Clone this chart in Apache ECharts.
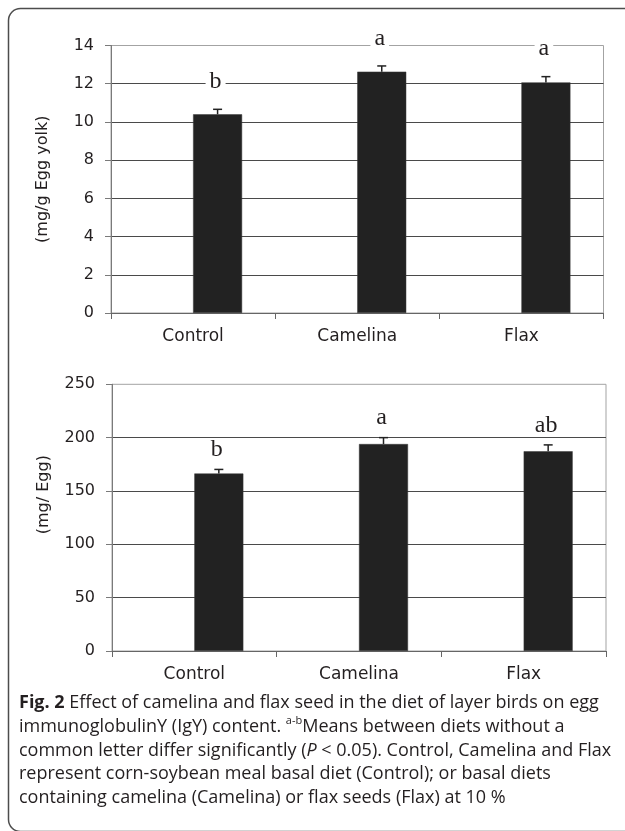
<!DOCTYPE html>
<html><head><meta charset="utf-8">
<script src="https://cdn.jsdelivr.net/npm/echarts@6/dist/echarts.min.js"></script>
<style>html,body{margin:0;padding:0;background:#fff}#c{width:625px;height:831px}</style>
</head><body><div id="c"></div>
<script>
// ---------- data ----------
const categories = ['Control', 'Camelina', 'Flax'];

const yolkMeans = [10.4, 12.63, 12.07];
const yolkErrors = [0.26, 0.3, 0.3];
const yolkLetters = ['b', 'a', 'a'];
const yolkTicks = { min: 0, max: 14, interval: 2 };
const yolkTitle = '(mg/g Egg yolk)';

const eggMeans = [166.4, 194, 187.2];
const eggErrors = [3.8, 6, 6];
const eggLetters = ['b', 'a', 'ab'];
const eggTicks = { min: 0, max: 250, interval: 50 };
const eggTitle = '(mg/ Egg)';

const captionLines = [
  '{b|Fig. 2} Effect of camelina and flax seed in the diet of layer birds on egg',
  'immunoglobulinY (IgY) content. {sup|a-b}Means between diets without a',
  'common letter differ significantly ({i|P} < 0.05). Control, Camelina and Flax',
  'represent corn-soybean meal basal diet (Control); or basal diets',
  'containing camelina (Camelina) or flax seeds (Flax) at 10 %'
];

// ---------- styles ----------
const SANS = '"DejaVu Sans"';
const SERIF = '"Liberation Serif"';
const CAP_FONT = '"Open Sans"';
const CAP_SIZE = 18;
const BAR_W = 49;
const INK = '#231f20';
const AXIS_GRAY = '#7a7a7a';
const GRID_DARK = '#4a4a4a';

function xAxis(gi) {
  return {
    type: 'category', gridIndex: gi, data: categories, boundaryGap: true,
    axisLine: { show: true, lineStyle: { color: '#666', width: 1 } },
    axisTick: { show: true, length: 6, lineStyle: { color: '#666' } },
    axisLabel: { margin: 15, color: INK, fontFamily: SANS, fontSize: 17 },
    splitLine: { show: false }
  };
}
function yAxis(gi, t, title, shift) {
  return {
    type: 'value', gridIndex: gi, min: t.min, max: t.max, interval: t.interval,
    name: title, nameLocation: 'middle', nameGap: 60, nameRotate: 90,
    nameTextStyle: { color: INK, fontFamily: SANS, fontSize: 16, padding: [0, 0, 0, shift] },
    axisLine: { show: true, lineStyle: { color: AXIS_GRAY } },
    axisTick: { show: true, length: 6, lineStyle: { color: AXIS_GRAY } },
    axisLabel: { margin: 17, color: INK, fontFamily: SANS, fontSize: 16 },
    splitLine: { show: true, showMinLine: false, showMaxLine: false, lineStyle: { color: GRID_DARK, width: 1 } }
  };
}
function barPair(gi, means) {
  return [
    { type: 'bar', xAxisIndex: gi, yAxisIndex: gi, data: means.map(() => '-'), barWidth: BAR_W, barGap: '0%', silent: true },
    { type: 'bar', xAxisIndex: gi, yAxisIndex: gi, data: means, barWidth: BAR_W, barGap: '0%',
      itemStyle: { color: '#222222', borderColor: '#3a3a3a', borderWidth: 0.5 } }
  ];
}
function errorSeries(gi, means, errs, letters, lift) {
  return {
    type: 'custom', xAxisIndex: gi, yAxisIndex: gi, z: 5,
    data: means.map((m, i) => [i, m, errs[i]]),
    renderItem(params, api) {
      const i = api.value(0), m = api.value(1), e = api.value(2);
      const base = api.coord([i, m]);
      const top = api.coord([i, m + e]);
      const x = base[0] + BAR_W / 2;
      const cap = 4.5;
      return {
        type: 'group', children: [
          { type: 'text', style: {
              text: letters[i], x: x - 2, y: top[1] - lift, align: 'center', verticalAlign: 'middle',
              fontFamily: SERIF, fontSize: 24, fill: INK, backgroundColor: '#fff', padding: [11, 4, 0, 4], lineHeight: 6 } },
          { type: 'line', shape: { x1: x, y1: base[1], x2: x, y2: top[1] }, style: { stroke: '#222', lineWidth: 1.5 } },
          { type: 'line', shape: { x1: x - cap, y1: top[1], x2: x + cap, y2: top[1] }, style: { stroke: '#222', lineWidth: 1.5 } }
        ]
      };
    }
  };
}

const captionTop = 703;
const captionGap = 23.7;
const capRich = {
  b: { fontFamily: CAP_FONT, fontSize: CAP_SIZE, fontWeight: 'bold', fill: INK, lineHeight: 22 },
  i: { fontFamily: CAP_FONT, fontSize: CAP_SIZE, fontStyle: 'italic', fill: INK, lineHeight: 22 },
  sup: { fontFamily: CAP_FONT, fontSize: 11, fill: INK, lineHeight: 12, verticalAlign: 'top' }
};

const option = {
  animation: false,
  backgroundColor: '#fff',
  grid: [
    { left: 111, top: 45.5, width: 492.5, height: 267.5, show: true, borderColor: '#a3a3a3', borderWidth: 1, backgroundColor: 'transparent', outerBoundsMode: 'none' },
    { left: 112, top: 384.3, width: 494, height: 266.7, show: true, borderColor: '#a3a3a3', borderWidth: 1, backgroundColor: 'transparent', outerBoundsMode: 'none' }
  ],
  xAxis: [xAxis(0), xAxis(1)],
  yAxis: [yAxis(0, yolkTicks, yolkTitle, 0), yAxis(1, eggTicks, eggTitle, 46)],
  series: [
    ...barPair(0, yolkMeans),
    errorSeries(0, yolkMeans, yolkErrors, yolkLetters, 27.5),
    ...barPair(1, eggMeans),
    errorSeries(1, eggMeans, eggErrors, eggLetters, 19.5)
  ],
  graphic: [
    { type: 'rect', shape: { x: 8.5, y: 8.5, width: 700, height: 823, r: 12 },
      style: { fill: 'none', stroke: '#4d4d4d', lineWidth: 1.5 }, silent: true, z: 0 },
    ...captionLines.map((t, k) => ({
      type: 'text', silent: true,
      style: { text: t, x: 19, y: captionTop + k * captionGap, verticalAlign: 'middle', align: 'left',
        fontFamily: CAP_FONT, fontSize: CAP_SIZE, fill: INK, lineHeight: 22, rich: capRich }
    }))
  ]
};

const chart = echarts.init(document.getElementById('c'), null, { renderer: 'canvas' });
chart.setOption(option);
</script>
</body></html>
